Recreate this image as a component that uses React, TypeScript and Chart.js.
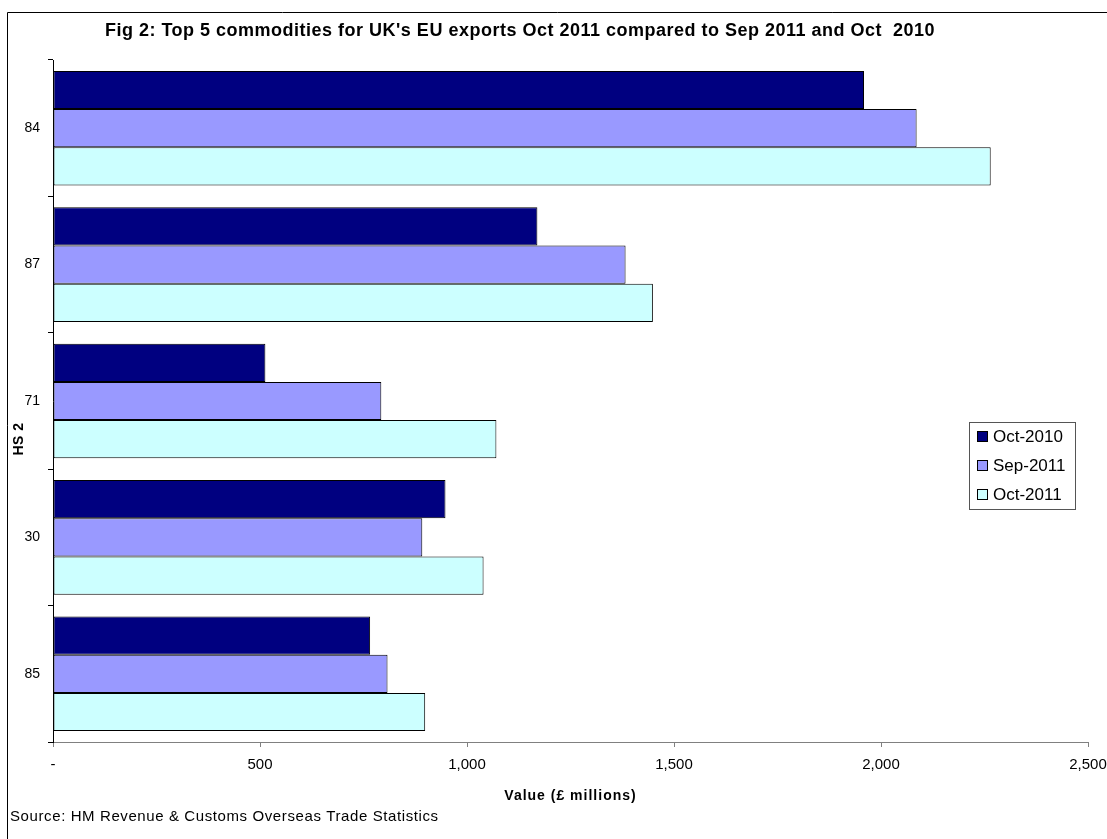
import React, { useEffect, useRef } from "react";
import { Chart, registerables } from "chart.js";

Chart.register(...registerables);

const categories = ["84", "87", "71", "30", "85"];
const oct2010 = [1959, 1170, 513, 948, 766];
const sep2011 = [2086, 1383, 793, 892, 808];
const oct2011 = [2265, 1449, 1071, 1040, 899];
const seriesLabels = ["Oct-2010", "Sep-2011", "Oct-2011"];
const seriesColors = ["#000080", "#9999FF", "#CCFFFF"];
const xTickValues = [0, 500, 1000, 1500, 2000, 2500];
const xTickLabels = ["-", "500", "1,000", "1,500", "2,000", "2,500"];

const titleText =
  "Fig 2: Top 5 commodities for UK's EU exports Oct 2011 compared to Sep 2011 and Oct  2010";
const xTitle = "Value (£ millions)";
const yTitle = "HS 2";
const sourceText = "Source: HM Revenue & Customs Overseas Trade Statistics";

const FONT = "'Liberation Sans', Arial, sans-serif";
const W = 1107;
const H = 839;

function spacedText(ctx: any, text: string, x: number, y: number, spacing: string) {
  const prev = ctx.letterSpacing;
  ctx.letterSpacing = spacing;
  ctx.fillText(text, x, y);
  ctx.letterSpacing = prev || "0px";
}

const decorPlugin = {
  id: "decor",
  afterDraw(chart: any) {
    const ctx = chart.ctx as any;
    const area = chart.chartArea;
    ctx.save();
    // outer frame (top and left edges visible in the crop)
    ctx.strokeStyle = "#000";
    ctx.lineWidth = 1;
    ctx.beginPath();
    ctx.moveTo(7.5, H);
    ctx.lineTo(7.5, 12.5);
    ctx.lineTo(W, 12.5);
    ctx.stroke();
    // title
    ctx.fillStyle = "#000";
    ctx.textAlign = "center";
    ctx.textBaseline = "middle";
    ctx.font = `bold 18px ${FONT}`;
    spacedText(ctx, titleText, 520, 31, "0.5px");
    // x axis title
    ctx.font = `bold 14px ${FONT}`;
    spacedText(ctx, xTitle, (area.left + area.right) / 2, 796, "1px");
    // y axis title
    ctx.save();
    ctx.translate(19, 439);
    ctx.rotate(-Math.PI / 2);
    ctx.font = `bold 14px ${FONT}`;
    spacedText(ctx, yTitle, 0, 0, "0.5px");
    ctx.restore();
    // source
    ctx.textAlign = "left";
    ctx.font = `15px ${FONT}`;
    spacedText(ctx, sourceText, 10, 817, "0.6px");
    // legend
    const lx = 969, ly = 422, lw = 106, lh = 87;
    ctx.fillStyle = "#fff";
    ctx.fillRect(lx, ly, lw, lh);
    ctx.strokeStyle = "#555";
    ctx.strokeRect(lx + 0.5, ly + 0.5, lw, lh);
    const rows = [436, 465, 494];
    ctx.font = `17px ${FONT}`;
    chart.data.datasets.forEach((ds: any, i: number) => {
      const cy = rows[i];
      ctx.fillStyle = ds.backgroundColor;
      ctx.fillRect(977, cy - 5, 10, 10);
      ctx.strokeStyle = "#000";
      ctx.strokeRect(977.5, cy - 4.5, 10, 10);
      ctx.fillStyle = "#000";
      ctx.textAlign = "left";
      ctx.textBaseline = "middle";
      ctx.fillText(ds.label, 993, cy + 1);
    });
    ctx.restore();
  },
};

export default function App() {
  const ref = useRef<HTMLCanvasElement | null>(null);
  useEffect(() => {
    document.body.style.margin = "0";
    const canvas = ref.current!;
    const values = [oct2010, sep2011, oct2011];
    const chart = new Chart(canvas, {
      type: "bar",
      data: {
        labels: categories,
        datasets: values.map((v, i) => ({
          label: seriesLabels[i],
          data: v,
          backgroundColor: seriesColors[i],
          borderColor: "#000",
          borderWidth: 1,
          borderSkipped: false,
          categoryPercentage: 0.84,
          barPercentage: 1.0,
        })),
      },
      options: {
        indexAxis: "y",
        responsive: false,
        animation: false,
        devicePixelRatio: 1,
        layout: { padding: { left: 0, top: 60, right: 19, bottom: 0 } },
        plugins: {
          legend: { display: false },
          title: { display: false },
          tooltip: { enabled: false },
        },
        scales: {
          x: {
            type: "linear",
            min: 0,
            max: 2500,
            afterBuildTicks: (s: any) => {
              s.ticks = xTickValues.map((v) => ({ value: v }));
            },
            afterFit: (s: any) => {
              s.height = H - 742;
              s.paddingLeft = 0;
              s.paddingRight = 0;
            },
            ticks: {
              color: "#000",
              font: { family: FONT, size: 15 },
              padding: 9,
              maxRotation: 0,
              callback: (_v: any, i: number) => xTickLabels[i],
            },
            grid: {
              drawOnChartArea: false,
              drawTicks: true,
              tickLength: 5,
              color: "#808080",
            },
            border: { color: "#808080", width: 1 },
          },
          y: {
            type: "category",
            afterFit: (s: any) => {
              s.width = 53;
              s.paddingTop = 0;
              s.paddingBottom = 0;
            },
            ticks: {
              color: "#000",
              font: { family: FONT, size: 14 },
              padding: 8,
            },
            grid: {
              drawOnChartArea: false,
              drawTicks: true,
              tickLength: 5,
              color: "#000",
              offset: true,
            },
            border: { color: "#000", width: 1 },
          },
        },
      },
      plugins: [decorPlugin],
    });
    return () => chart.destroy();
  }, []);
  return <canvas ref={ref} width={W} height={H} style={{ display: "block" }} />;
}
